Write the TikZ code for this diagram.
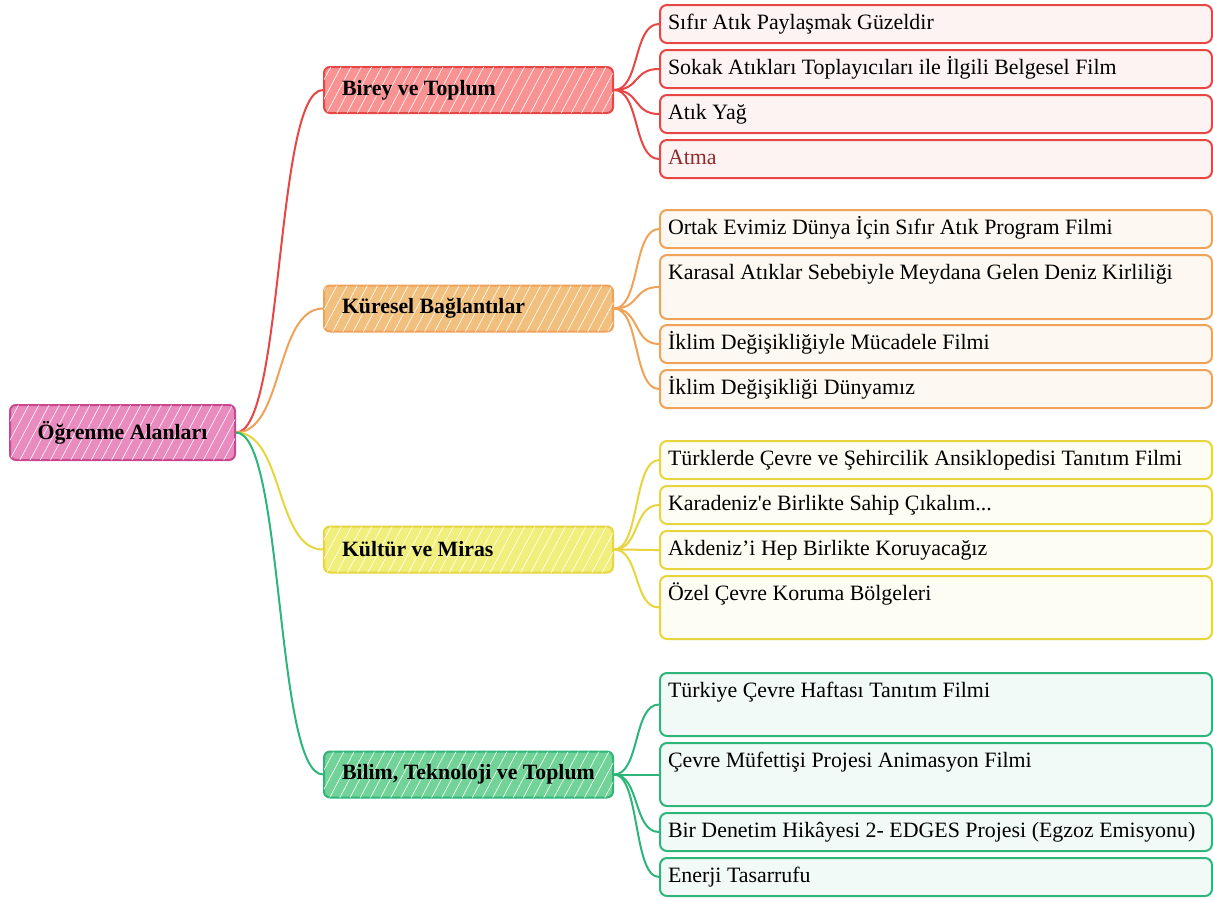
\documentclass[tikz,border=0pt]{standalone}
\usepackage{fontspec}
\setmainfont{Liberation Serif}
\usetikzlibrary{patterns.meta}

\definecolor{rootfill}{HTML}{E98BBE}
\definecolor{rootline}{HTML}{C9478E}
\definecolor{redfill}{HTML}{F99393}
\definecolor{redline}{HTML}{E84545}
\definecolor{redleaf}{HTML}{FDF3F3}
\definecolor{orangefill}{HTML}{F2C07E}
\definecolor{orangeline}{HTML}{F0A259}
\definecolor{orangeleaf}{HTML}{FDF8F1}
\definecolor{yellowfill}{HTML}{F1EF7C}
\definecolor{yellowline}{HTML}{E8D43C}
\definecolor{yellowleaf}{HTML}{FEFDF3}
\definecolor{greenfill}{HTML}{72D398}
\definecolor{greenline}{HTML}{2DB57A}
\definecolor{greenleaf}{HTML}{F2FAF7}
\definecolor{atmared}{HTML}{8E2B2B}

\begin{document}
\begin{tikzpicture}[x=1pt, y=-1pt, line width=2pt,
  hatch/.style={postaction={fill opacity=.3,
      pattern={Lines[angle=62,distance=9pt,line width=.6pt]}, pattern color=white}},
  rootbox/.style={draw=rootline, fill=rootfill, hatch, rounded corners=6pt,
      minimum width=225pt, minimum height=55pt,
      font=\fontsize{21.8}{26}\selectfont\bfseries},
  branch/.style={draw=#1line, fill=#1fill, hatch, rounded corners=6pt,
      minimum height=46pt, inner xsep=18pt, anchor=west,
      font=\fontsize{21.8}{26}\selectfont\bfseries},
  leaf/.style={draw=#1line, fill=#1leaf, rounded corners=7pt,
      inner xsep=8pt, inner ysep=8pt, text height=16pt,
      anchor=north west, font=\fontsize{21.9}{26}\selectfont},
  conn/.style={draw=#1line, line width=2pt}]
  \useasboundingbox (0,0) rectangle (1213,900);

  \node[rootbox] (root) at (122.5,432.5) {Öğrenme Alanları};
  \node[branch=red] (birey) at (323,90) {\makebox[253pt][l]{Birey ve Toplum}};
  \node[branch=orange] (kuresel) at (323,308.5) {\makebox[253pt][l]{Küresel Bağlantılar}};
  \node[branch=yellow] (kultur) at (323,549.5) {\makebox[253pt][l]{Kültür ve Miras}};
  \node[branch=green] (bilim) at (323,774.5) {\makebox[253pt][l]{Bilim, Teknoloji ve Toplum}};

  \foreach \nm/\ytop/\ybot/\col/\txt in {
      b1/4/42/red/{Sıfır Atık Paylaşmak Güzeldir},
      b2/49/87/red/{Sokak Atıkları Toplayıcıları ile İlgili Belgesel Film},
      b3/94/132/red/{Atık Yağ},
      b4/139/177/red/{\color{atmared}Atma},
      k1/209/247/orange/{Ortak Evimiz Dünya İçin Sıfır Atık Program Filmi},
      k2/254/318/orange/{Karasal Atıklar Sebebiyle Meydana Gelen Deniz Kirliliği},
      k3/324/362/orange/{İklim Değişikliğiyle Mücadele Filmi},
      k4/369/407/orange/{İklim Değişikliği Dünyamız},
      m1/440/478/yellow/{Türklerde Çevre ve Şehircilik Ansiklopedisi Tanıtım Filmi},
      m2/485/523/yellow/{Karadeniz\textquotesingle e Birlikte Sahip Çıkalım...},
      m3/530/568/yellow/{Akdeniz’i Hep Birlikte Koruyacağız},
      m4/575/638/yellow/{Özel Çevre Koruma Bölgeleri},
      t1/672/735/green/{Türkiye Çevre Haftası Tanıtım Filmi},
      t2/742/805/green/{Çevre Müfettişi Projesi Animasyon Filmi},
      t3/812/850/green/{Bir Denetim Hikâyesi 2- EDGES Projesi (Egzoz Emisyonu)},
      t4/857/895/green/{Enerji Tasarrufu}} {
    \pgfmathsetmacro\lfdepth{\ybot-\ytop-32}
    \node[leaf=\col, text depth=\lfdepth pt] (\nm) at (659,\ytop) {\makebox[536pt][l]{\txt}};
  }

  \foreach \br/\col in {birey/red, kuresel/orange, kultur/yellow, bilim/green} {
    \draw[conn=\col] (root.east) .. controls +(48,0) and +(-48,0) .. (\br.west);
  }
  \foreach \lf in {b1, b2, b3, b4} {
    \draw[conn=red] (birey.east) .. controls +(26,0) and +(-26,0) .. (\lf.west);
  }
  \foreach \lf in {k1, k2, k3, k4} {
    \draw[conn=orange] (kuresel.east) .. controls +(26,0) and +(-26,0) .. (\lf.west);
  }
  \foreach \lf in {m1, m2, m3, m4} {
    \draw[conn=yellow] (kultur.east) .. controls +(26,0) and +(-26,0) .. (\lf.west);
  }
  \foreach \lf in {t1, t2, t3, t4} {
    \draw[conn=green] (bilim.east) .. controls +(26,0) and +(-26,0) .. (\lf.west);
  }
\end{tikzpicture}
\end{document}
